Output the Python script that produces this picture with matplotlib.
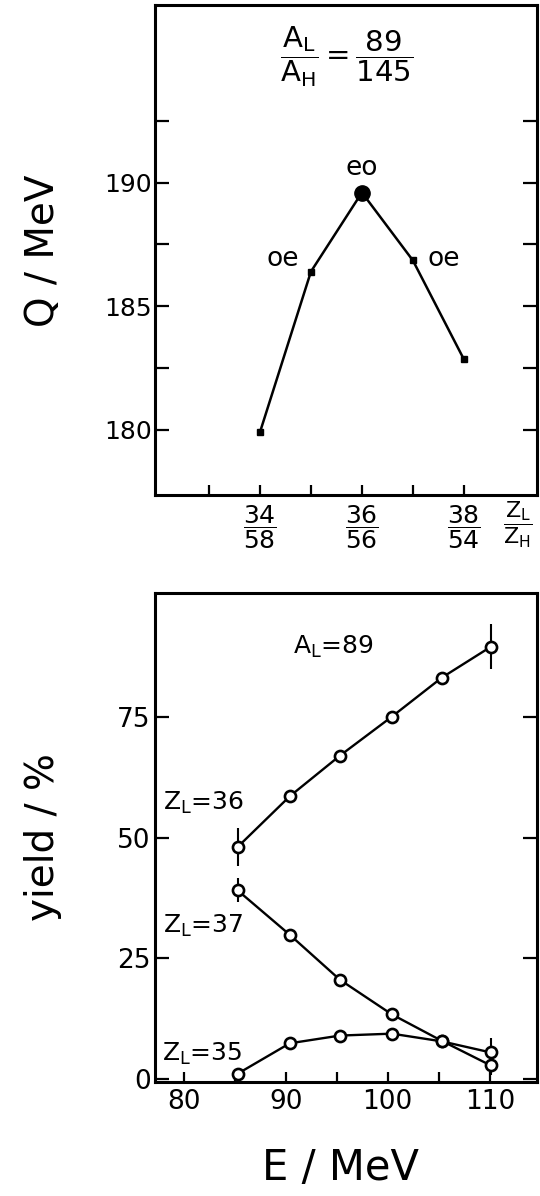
import matplotlib
matplotlib.use("Agg")
import matplotlib.pyplot as plt

plt.rcParams['font.family'] = ['DejaVu Sans']
plt.rcParams['mathtext.fontset'] = 'dejavusans'

# top panel: Q value vs charge split
z_light = [34, 35, 36, 37, 38]
q_mev = [179.9, 186.4, 189.6, 186.85, 182.85]
z_tick_labels = [r'$\dfrac{34}{58}$', r'$\dfrac{36}{56}$', r'$\dfrac{38}{54}$']

# bottom panel: yield vs excitation energy
energy = [85.3, 90.4, 95.3, 100.4, 105.3, 110.1]
yield_z36 = [48.1, 58.6, 67.0, 75.1, 83.2, 89.6]
err_z36 = [4.0, 0, 0, 0, 0, 4.7]
yield_z37 = [39.1, 29.9, 20.6, 13.4, 7.9, 2.8]
err_z37 = [2.5, 0, 0, 0, 0, 2.0]
yield_z35 = [1.1, 7.4, 9.0, 9.4, 7.8, 5.5]
err_z35 = [0, 0, 0, 0, 0, 3.0]

fig = plt.figure(figsize=(5.4, 11.96), dpi=100)

# ---- top panel
ax1 = fig.add_axes([0.287, 0.586, 0.707, 0.410])
ax1.plot(z_light, q_mev, color='black', lw=1.8, marker='s', ms=4.5)
ax1.plot(z_light[2], q_mev[2], 'o', color='black', ms=11)
ax1.set_xlim(31.94, 39.43)
ax1.set_ylim(177.35, 197.2)
ax1.set_xticks([34, 36, 38])
ax1.set_xticklabels(z_tick_labels)
ax1.set_xticks([33, 35, 37], minor=True)
ax1.set_yticks([180, 185, 190])
ax1.set_yticks([182.5, 187.5, 192.5], minor=True)
ax1.tick_params(axis='y', which='both', direction='in', length=10, width=1.6,
                right=True, labelsize=18, pad=2)
ax1.tick_params(axis='x', which='both', direction='in', length=7, width=1.6,
                labelsize=18, pad=6)
ax1.text(35.7, 195.1, r'$\dfrac{\mathrm{A_L}}{\mathrm{A_H}} = \dfrac{89}{145}$',
         ha='center', va='center', fontsize=21)
ax1.text(36.0, 190.6, 'eo', ha='center', va='center', fontsize=19)
ax1.text(34.45, 186.9, 'oe', ha='center', va='center', fontsize=19)
ax1.text(37.6, 186.9, 'oe', ha='center', va='center', fontsize=19)
ax1.text(39.05, -0.06, r'$\dfrac{\mathrm{Z_L}}{\mathrm{Z_H}}$', ha='center', va='center',
         fontsize=16, transform=ax1.get_xaxis_transform())
fig.text(0.08, 0.79, 'Q / MeV', rotation=90, ha='center', va='center', fontsize=28)

# ---- bottom panel
ax2 = fig.add_axes([0.287, 0.095, 0.707, 0.409])
for y, e in [(yield_z36, err_z36), (yield_z37, err_z37), (yield_z35, err_z35)]:
    ax2.errorbar(energy, y, yerr=e, color='black', lw=1.7, marker='o', ms=8,
                 mfc='white', mec='black', mew=1.9, capsize=0, elinewidth=1.5)
ax2.set_xlim(77.2, 114.6)
ax2.set_ylim(-0.7, 100.7)
ax2.set_xticks([80, 90, 100, 110])
ax2.set_xticks([85, 95, 105], minor=True)
ax2.set_yticks([0, 25, 50, 75])
ax2.tick_params(axis='y', which='both', direction='in', length=10, width=1.6,
                right=True, labelsize=19, pad=3)
ax2.tick_params(axis='x', which='both', direction='in', length=7, width=1.6,
                labelsize=19, pad=5)
ax2.text(94.7, 89.5, r'$\mathrm{A_L}$=89', ha='center', va='center', fontsize=18)
ax2.text(77.95, 57.2, r'$\mathrm{Z_L}$=36', ha='left', va='center', fontsize=18)
ax2.text(77.95, 31.8, r'$\mathrm{Z_L}$=37', ha='left', va='center', fontsize=18)
ax2.text(77.85, 5.3, r'$\mathrm{Z_L}$=35', ha='left', va='center', fontsize=18)
fig.text(0.08, 0.30, 'yield / %', rotation=90, ha='center', va='center', fontsize=28)
fig.text(0.63, 0.023, 'E / MeV', ha='center', va='center', fontsize=30)

for ax in (ax1, ax2):
    for s in ax.spines.values():
        s.set_linewidth(2.2)

fig.savefig('out.png', dpi=100)
